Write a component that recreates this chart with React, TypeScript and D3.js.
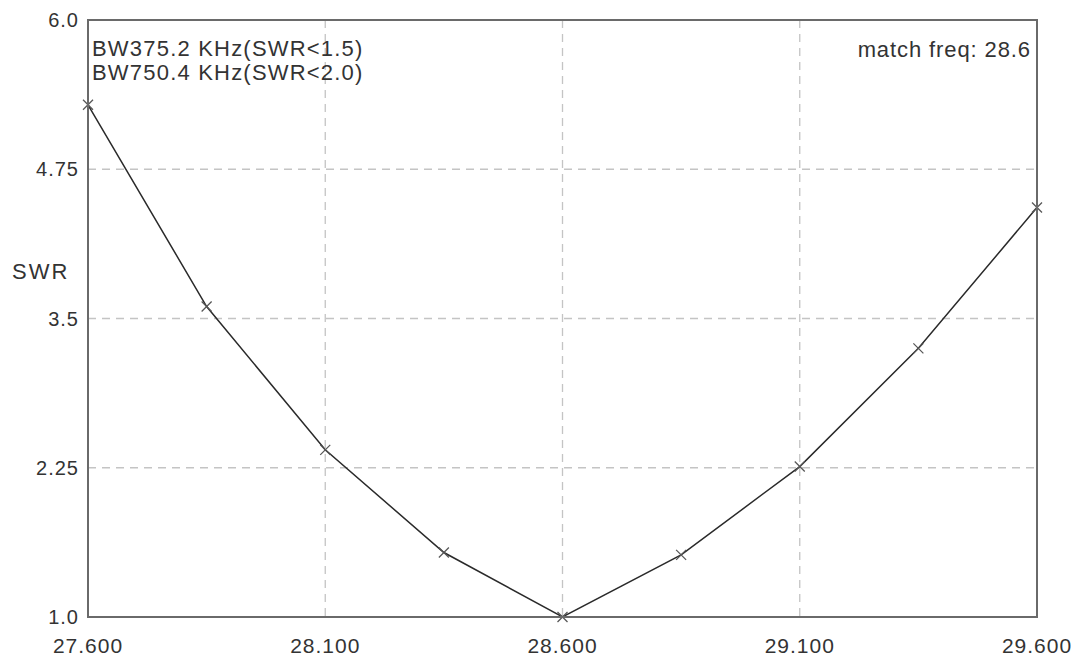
import React from "react";
import * as d3 from "d3";

const freqs = [27.6, 27.85, 28.1, 28.35, 28.6, 28.85, 29.1, 29.35, 29.6];
const swr = [5.29, 3.6, 2.4, 1.54, 1.0, 1.52, 2.26, 3.25, 4.43];
const xTicks = [27.6, 28.1, 28.6, 29.1, 29.6];
const yTicks = [1.0, 2.25, 3.5, 4.75, 6.0];
const yTickLabels = ["1.0", "2.25", "3.5", "4.75", "6.0"];
const infoLines = ["BW375.2 KHz(SWR<1.5)", "BW750.4 KHz(SWR<2.0)"];
const matchText = "match freq: 28.6";

const W = 1077, H = 659;
const L = 88, R = 1037, T = 20, B = 617;
const FONT = "'Liberation Sans', Arial, sans-serif";

export default function App() {
  const x = d3.scaleLinear().domain([27.6, 29.6]).range([L, R]);
  const y = d3.scaleLinear().domain([1, 6]).range([B, T]);
  const pts = freqs.map((f, i) => [x(f), y(swr[i])] as [number, number]);
  const line = d3.line()(pts) || "";
  const m = 5;
  return (
    <svg width={W} height={H} style={{ position: "absolute", left: 0, top: 0, background: "#fff" }}>
      <rect x={0} y={0} width={W} height={H} fill="#fff" />
      {xTicks.slice(1, -1).map((t) => (
        <line key={"gx" + t} x1={x(t)} x2={x(t)} y1={T} y2={B} stroke="#c4c4c4" strokeWidth={1.3} strokeDasharray="8,6" />
      ))}
      {yTicks.slice(1, -1).map((t) => (
        <line key={"gy" + t} x1={L} x2={R} y1={y(t)} y2={y(t)} stroke="#c4c4c4" strokeWidth={1.3} strokeDasharray="8,6" />
      ))}
      <path d={line} fill="none" stroke="#2a2a2a" strokeWidth={1.5} />
      {pts.map(([px, py], i) => (
        <g key={"m" + i} stroke="#555" strokeWidth={1.3}>
          <line x1={px - m} y1={py - m} x2={px + m} y2={py + m} />
          <line x1={px - m} y1={py + m} x2={px + m} y2={py - m} />
        </g>
      ))}
      <rect x={L} y={T} width={R - L} height={B - T} fill="none" stroke="#6a6a6a" strokeWidth={2} />
      {yTicks.map((t, i) => (
        <text key={"yl" + t} x={79} y={y(t)} dy="0.36em" textAnchor="end" fontFamily={FONT} fontSize={20} letterSpacing={1} fill="#333">
          {yTickLabels[i]}
        </text>
      ))}
      {xTicks.map((t) => (
        <text key={"xl" + t} x={x(t)} y={653} textAnchor="middle" fontFamily={FONT} fontSize={21} letterSpacing={1} fill="#333">
          {t.toFixed(3)}
        </text>
      ))}
      <text x={12} y={279} fontFamily={FONT} fontSize={22} letterSpacing={2} fill="#333">SWR</text>
      {infoLines.map((s, i) => (
        <text key={"i" + i} x={92} y={56 + i * 24} fontFamily={FONT} fontSize={22} letterSpacing={1.2} fill="#333">{s}</text>
      ))}
      <text x={1031} y={57} textAnchor="end" fontFamily={FONT} fontSize={22} letterSpacing={0.9} fill="#333">{matchText}</text>
    </svg>
  );
}
